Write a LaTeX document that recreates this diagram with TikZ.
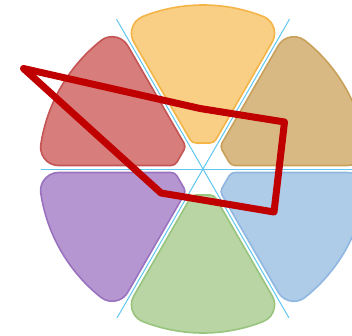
\documentclass[tikz,border=0pt]{standalone}
\usetikzlibrary{calc}
\definecolor{orF}{HTML}{F9CF85}\definecolor{orD}{HTML}{F5B546}
\definecolor{tnF}{HTML}{D9B983}\definecolor{tnD}{HTML}{C8A05A}
\definecolor{blF}{HTML}{AECBE8}\definecolor{blD}{HTML}{8FB7E0}
\definecolor{grF}{HTML}{B8D5A3}\definecolor{grD}{HTML}{98C47D}
\definecolor{puF}{HTML}{B596D0}\definecolor{puD}{HTML}{9A72BF}
\definecolor{rdF}{HTML}{D77D7B}\definecolor{rdD}{HTML}{C55555}
\definecolor{axisc}{HTML}{5EC6EF}
\definecolor{polyc}{HTML}{C00000}
\tikzset{
  petal/.style={line width=1.6pt, line join=round},
  axisline/.style={draw=axisc, line width=1pt},
  polyline/.style={draw=polyc, line width=7pt, line join=round, line cap=round}
}
\begin{document}
\begin{tikzpicture}[x=1pt,y=1pt]
\useasboundingbox (0,0) rectangle (352,335);
\clip (0,0) rectangle (352,335);
\coordinate (O) at (203,166);
% axis lines
\draw[axisline] ($(O)+(-162,0)$) -- ($(O)+(170,0)$);
\draw[axisline] ($(O)+(60:173)$) -- ($(O)+(240:172)$);
\draw[axisline] ($(O)+(120:173)$) -- ($(O)+(300:172)$);
% petals
\foreach \rot/\fc/\dc in {0/orF/orD, -60/tnF/tnD, -120/blF/blD, 180/grF/grD, 120/puF/puD, 60/rdF/rdD}{
  \begin{scope}[shift={(203,166)}, rotate=\rot]
    \draw[petal, fill=\fc, draw=\dc]
      (-6.93,26) -- (6.93,26)
      arc[start angle=-90, end angle=-30, radius=7]
      -- (69.17,126.81)
      arc[start angle=-30, end angle=68.468, radius=18]
      arc[start angle=68.468, end angle=111.532, radius=164]
      arc[start angle=111.532, end angle=210, radius=18]
      -- (-12.99,29.5)
      arc[start angle=210, end angle=270, radius=7]
      -- cycle;
  \end{scope}
}
% red polyline
\coordinate (p1) at (23.5,266.5);
\coordinate (p2) at (200,226.5);
\coordinate (p3) at (284.5,213);
\coordinate (p4) at (274,123);
\coordinate (p5) at (161,142);
\draw[polyline] (p1) -- (p2) -- (p3) -- (p4) -- (p5) -- cycle;
\end{tikzpicture}
\end{document}
